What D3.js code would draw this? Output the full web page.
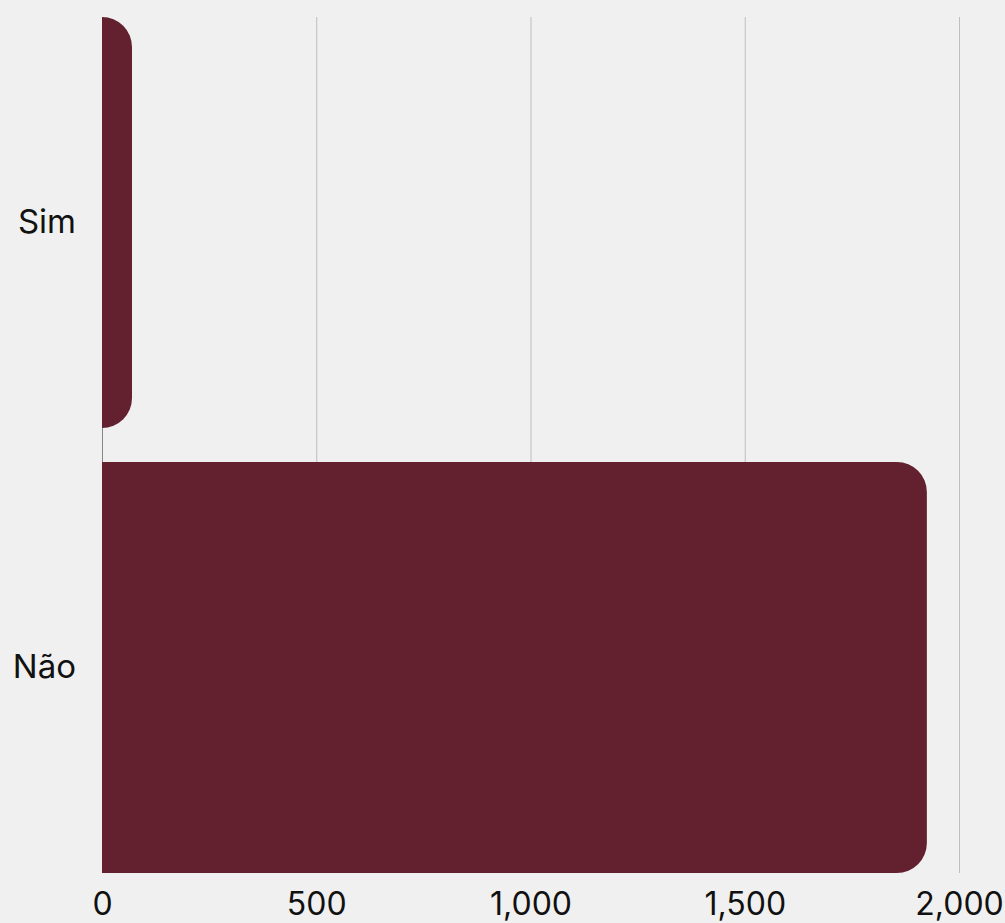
<!DOCTYPE html>
<html>
<head>
<meta charset="utf-8">
<script src="https://cdn.jsdelivr.net/npm/d3@7"></script>
<style>
  html, body { margin: 0; padding: 0; background: #f0f0f0; }
  svg { display: block; }
  text { font-family: Inter, "Noto Sans", sans-serif; fill: #111; }
</style>
</head>
<body>
<svg id="chart" width="1005" height="923"></svg>
<script>
// Categories and their counts
const categories = ["Sim", "Não"];
const counts = [70, 1925];
const tickValues = [0, 500, 1000, 1500, 2000];

const width = 1005, height = 923;
const margin = { top: 17, right: 46, bottom: 50, left: 102 };
const barColor = "#63202f";
const radius = 30;

const svg = d3.select("#chart");
svg.append("rect").attr("width", width).attr("height", height).attr("fill", "#f0f0f0");

const x = d3.scaleLinear()
  .domain([0, 2000])
  .range([margin.left, width - margin.right]);

const y = d3.scaleBand()
  .domain(categories)
  .range([margin.top, height - margin.bottom])
  .paddingInner(0.0764)
  .paddingOuter(0);

// Vertical gridlines
svg.append("g")
  .selectAll("line")
  .data(tickValues.filter(v => v > 0))
  .join("line")
  .attr("x1", d => x(d) + 0.5).attr("x2", d => x(d) + 0.5)
  .attr("y1", margin.top).attr("y2", height - margin.bottom)
  .attr("stroke", "#bebebe").attr("stroke-width", 1);

// Baseline at zero
svg.append("line")
  .attr("x1", x(0) + 0.5).attr("x2", x(0) + 0.5)
  .attr("y1", margin.top).attr("y2", height - margin.bottom)
  .attr("stroke", "#888888").attr("stroke-width", 1);

// Bars with rounded right corners
function barPath(x0, x1, y0, y1, r) {
  const w = x1 - x0;
  const rr = Math.min(r, w, (y1 - y0) / 2);
  return `M${x0},${y0}H${x1 - rr}A${rr},${rr} 0 0 1 ${x1},${y0 + rr}` +
         `V${y1 - rr}A${rr},${rr} 0 0 1 ${x1 - rr},${y1}H${x0}Z`;
}

const data = categories.map((c, i) => ({ category: c, value: counts[i] }));

svg.append("g")
  .selectAll("path")
  .data(data)
  .join("path")
  .attr("d", d => barPath(x(0), x(d.value), y(d.category), y(d.category) + y.bandwidth(), radius))
  .attr("fill", barColor);

// X axis tick labels
const xAxis = d3.axisBottom(x)
  .tickValues(tickValues)
  .tickFormat(d3.format(","))
  .tickSize(0)
  .tickPadding(0);

const gx = svg.append("g")
  .attr("transform", `translate(0,${height - margin.bottom})`)
  .call(xAxis);
gx.select(".domain").remove();
gx.selectAll("text")
  .attr("dy", null)
  .attr("y", 42)
  .style("font-size", "32px")
  .style("font-family", "Inter, sans-serif")
  .attr("fill", "#111");

// Y axis category labels
const yAxis = d3.axisLeft(y).tickSize(0).tickPadding(26);
const gy = svg.append("g")
  .attr("transform", `translate(${margin.left},0)`)
  .call(yAxis);
gy.select(".domain").remove();
gy.selectAll("text")
  .style("font-size", "33px")
  .style("font-family", "Inter, sans-serif")
  .attr("fill", "#111");
</script>
</body>
</html>
